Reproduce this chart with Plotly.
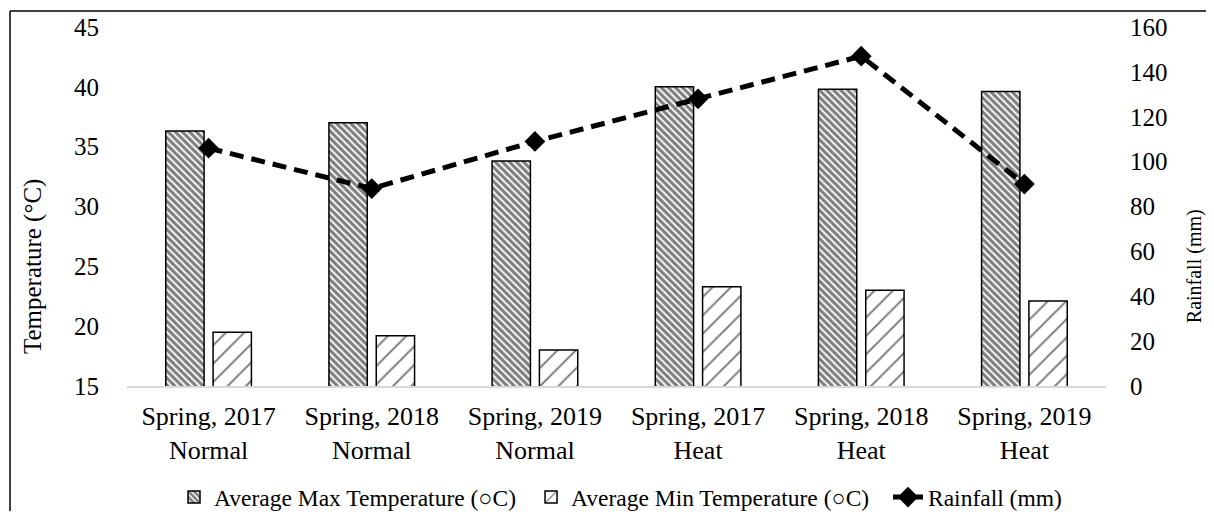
import plotly.graph_objects as go

categories = ["Spring, 2017<br>Normal", "Spring, 2018<br>Normal", "Spring, 2019<br>Normal",
              "Spring, 2017<br>Heat", "Spring, 2018<br>Heat", "Spring, 2019<br>Heat"]
max_temp = [36.3, 37.0, 33.8, 40.0, 39.8, 39.6]
min_temp = [19.5, 19.2, 18.0, 23.3, 23.0, 22.1]
rainfall = [106, 88, 109, 128, 147, 90]

FONT = "Liberation Serif, Times New Roman, serif"

fig = go.Figure()
fig.add_trace(go.Bar(
    x=categories, y=max_temp, name="Average Max Temperature (○C)",
    marker=dict(color="white", line=dict(color="black", width=1.5),
                pattern=dict(shape="\\", fgcolor="black", bgcolor="white", size=5, solidity=0.65)),
))
fig.add_trace(go.Bar(
    x=categories, y=min_temp, name="Average Min Temperature (○C)",
    marker=dict(color="white", line=dict(color="black", width=1.5),
                pattern=dict(shape="/", fgcolor="black", bgcolor="white", size=13, solidity=0.15)),
))
fig.add_trace(go.Scatter(
    x=categories, y=rainfall, name="Rainfall (mm)", yaxis="y2", mode="lines+markers",
    line=dict(color="black", width=5, dash="14px,8px"),
    marker=dict(symbol="diamond", size=16, color="black"),
))

fig.update_layout(
    width=1198, height=503,
    margin=dict(l=119, r=100, t=19, b=125, autoexpand=False),
    paper_bgcolor="white", plot_bgcolor="white",
    font=dict(family=FONT, size=24, color="black"),
    barmode="group", bargap=0.42, bargroupgap=0.19,
    showlegend=True,
    legend=dict(orientation="h", x=1.142, xanchor="right", y=-0.31, yanchor="middle",
                font=dict(size=23.5), itemwidth=30, entrywidth=312, tracegroupgap=0,
                bgcolor="rgba(0,0,0,0)"),
    xaxis=dict(showline=True, linecolor="#d9d9d9", linewidth=1.5, showgrid=False, automargin=False,
               tickfont=dict(size=26), ticks="", ticklabelstandoff=6),
    yaxis=dict(range=[15, 45], dtick=5, showgrid=False, zeroline=False, showline=False, automargin=False,
               tickfont=dict(size=25), ticks="", ticklabelstandoff=27),
    yaxis2=dict(range=[0, 160], dtick=20, overlaying="y", side="right", showgrid=False, automargin=False,
                zeroline=False, showline=False, ticks="", ticklabelstandoff=23,
                tickfont=dict(size=25)),
    annotations=[
        dict(text="Temperature (°C)", xref="paper", yref="paper", x=-0.096, y=0.334,
             textangle=-90, showarrow=False, xanchor="center", yanchor="middle", font=dict(size=25)),
        dict(text="Rainfall (mm)", xref="paper", yref="paper", x=1.090, y=0.334,
             textangle=-90, showarrow=False, xanchor="center", yanchor="middle", font=dict(size=20)),
    ],
    shapes=[
        dict(type="line", xref="paper", yref="paper", x0=-0.1195, x1=-0.1195, y0=-0.5, y1=1.0446,
             line=dict(color="black", width=1.5)),
        dict(type="line", xref="paper", yref="paper", x0=-0.1195, x1=1.2, y0=1.0446, y1=1.0446,
             line=dict(color="black", width=1.5)),
    ],
)

fig.write_html("out.html")
